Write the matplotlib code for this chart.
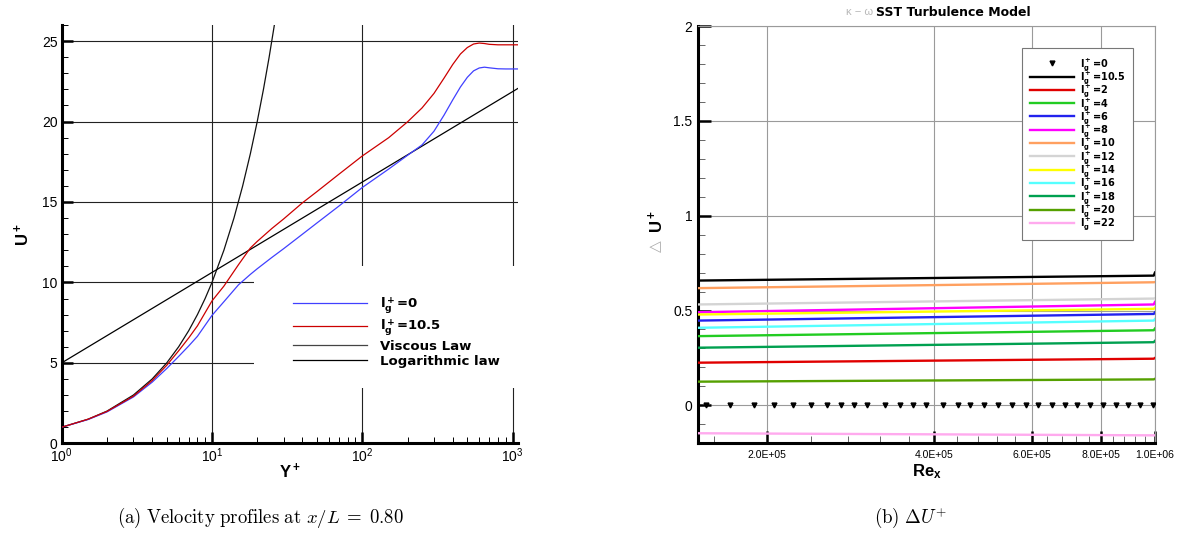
import matplotlib
matplotlib.use('Agg')
import matplotlib.pyplot as plt
from matplotlib.ticker import FixedLocator, FixedFormatter, LogFormatterMathtext, MultipleLocator
from matplotlib.patches import Rectangle

plt.rcParams['font.family'] = ['Liberation Sans', 'DejaVu Sans']
plt.rcParams['mathtext.fontset'] = 'custom'
plt.rcParams['mathtext.rm'] = 'Liberation Sans'
plt.rcParams['mathtext.default'] = 'regular'

# ---- (a) velocity profiles ----
yplus = [1, 1.5, 2, 3, 4, 5, 6, 7, 8, 10, 12, 15, 18, 20, 25, 30, 40, 50, 70, 100,
         150, 200, 250, 300, 350, 400, 450, 500, 550, 600, 650, 700, 800, 900, 1086]
u_lg0 = [1.0, 1.48, 1.95, 2.88, 3.8, 4.65, 5.4, 6.05, 6.65, 7.95, 8.8, 9.85, 10.5, 10.85, 11.55,
         12.1, 13.0, 13.7, 14.75, 15.9, 17.05, 17.9, 18.55, 19.4, 20.4, 21.35, 22.15, 22.75,
         23.15, 23.33, 23.38, 23.34, 23.28, 23.27, 23.27]
u_lg105 = [1.0, 1.5, 1.98, 2.93, 3.9, 4.85, 5.75, 6.55, 7.3, 8.85, 9.77, 11.1, 12.14, 12.55, 13.35,
           13.95, 14.95, 15.65, 16.73, 17.86, 19.0, 19.98, 20.85, 21.75, 22.7, 23.55, 24.2, 24.6,
           24.82, 24.88, 24.85, 24.8, 24.77, 24.77, 24.77]
visc_y = [1, 1.5, 2, 3, 4, 5, 6, 7, 8, 9, 10, 12, 14, 16, 18, 20, 22, 24, 26, 28]
visc_u = [1, 1.5, 2, 3, 4, 5, 6, 7, 8, 9, 10, 12, 14, 16, 18, 20, 22, 24, 26, 28]
log_y = [1, 1086]
log_u = [5.0, 22.06]

# ---- (b) delta U+ vs Re_x ----
re_line = [1.5e5, 9.95e5, 1.0e6]
du_105 = [0.658, 0.684, 0.700]
du_2 = [0.225, 0.246, 0.250]
du_4 = [0.365, 0.396, 0.405]
du_6 = [0.447, 0.482, 0.490]
du_8 = [0.491, 0.532, 0.545]
du_10 = [0.618, 0.649, 0.650]
du_12 = [0.532, 0.563, 0.565]
du_14 = [0.479, 0.509, 0.515]
du_16 = [0.409, 0.447, 0.455]
du_18 = [0.304, 0.333, 0.340]
du_20 = [0.125, 0.137, 0.140]
du_22 = [-0.147, -0.158, -0.158]
re_pts = [1.55e5, 1.71e5, 1.89e5, 2.06e5, 2.23e5, 2.40e5, 2.56e5, 2.72e5, 2.87e5, 3.03e5,
          3.26e5, 3.47e5, 3.67e5, 3.86e5, 4.15e5, 4.41e5, 4.65e5, 4.92e5, 5.21e5, 5.52e5,
          5.86e5, 6.16e5, 6.52e5, 6.87e5, 7.24e5, 7.63e5, 8.05e5, 8.49e5, 8.94e5, 9.39e5, 9.9e5]
du_0 = [0.0] * len(re_pts)
re_ticks = [2e5, 4e5, 6e5, 8e5, 1e6]
re_labels = ['2.0E+05', '4.0E+05', '6.0E+05', '8.0E+05', '1.0E+06']
du_ticks = [0, 0.5, 1, 1.5, 2]
du_labels = ['0', '0.5', '1', '1.5', '2']

series_b = [
    ('10.5', du_105, 'black'),
    ('2', du_2, '#e00000'),
    ('4', du_4, '#22cc22'),
    ('6', du_6, '#2222ee'),
    ('8', du_8, '#ff00ff'),
    ('10', du_10, '#ffa060'),
    ('12', du_12, '#d4d4d4'),
    ('14', du_14, '#ffff00'),
    ('16', du_16, '#55ffff'),
    ('18', du_18, '#00a050'),
    ('20', du_20, '#55a000'),
    ('22', du_22, '#ffaaee'),
]

fig = plt.figure(figsize=(11.82, 5.44), dpi=100)

# ---------- left panel ----------
ax1 = fig.add_axes([0.0522, 0.1851, 0.3860, 0.7689])
ax1.set_xscale('log')
ax1.set_xlim(1, 1086)
ax1.set_ylim(0, 26)
ax1.set_axisbelow(True)
ax1.grid(True, which='major', color='#222222', linewidth=0.8)
# blank area behind the legend (grid is cut there in the source)
ax1.add_patch(Rectangle((0.421, 0.132), 0.579, 0.292, transform=ax1.transAxes,
                        facecolor='white', edgecolor='none', zorder=1))

ax1.plot(yplus, u_lg0, color='#4040ff', lw=0.9, label='l$_g^+$=0', zorder=3)
ax1.plot(yplus, u_lg105, color='#cc0000', lw=0.9, label='l$_g^+$=10.5', zorder=3)
ax1.plot(visc_y, visc_u, color='#111111', lw=0.9, label='Viscous Law', zorder=2)
ax1.plot(log_y, log_u, color='black', lw=0.9, label='Logarithmic law', zorder=2)

ax1.yaxis.set_major_locator(MultipleLocator(5))
ax1.yaxis.set_minor_locator(MultipleLocator(1))
ax1.xaxis.set_major_formatter(LogFormatterMathtext())
ax1.tick_params(which='major', direction='in', length=8, width=1.8, labelsize=10, pad=3)
ax1.tick_params(which='minor', direction='in', length=4.3, width=0.7)
ax1.tick_params(axis='x', which='major', pad=2)
for s in ['top', 'right']:
    ax1.spines[s].set_visible(False)
for s in ['left', 'bottom']:
    ax1.spines[s].set_linewidth(2.2)

ax1.set_xlabel('Y$^+$', fontsize=12, fontweight='bold')
ax1.set_ylabel('U$^+$', fontsize=12, fontweight='bold')
ax1.xaxis.set_label_coords(0.5, -0.045)
ax1.yaxis.set_label_coords(-0.065, 0.5)

leg1 = ax1.legend(loc='upper left', bbox_to_anchor=(0.492, 0.37), frameon=False,
                  prop={'family': 'DejaVu Sans', 'weight': 'bold', 'size': 9.5},
                  handlelength=5.6, handletextpad=1.0, labelspacing=0.13, borderpad=0)
for h, c in zip(leg1.get_lines(), ['#4040ff', '#cc0000', '#444444', 'black']):
    h.set_color(c)

# ---------- right panel ----------
ax2 = fig.add_axes([0.5905, 0.1851, 0.3866, 0.7671])
ax2.set_xscale('log')
ax2.set_xlim(1.5e5, 1e6)
ax2.set_ylim(-0.2, 2)
ax2.set_axisbelow(True)
ax2.grid(True, which='major', color='#9a9a9a', linewidth=0.8)

ax2.plot(re_pts, du_0, linestyle='none', marker='v', markersize=3.5, color='black',
         label='l$_g^+$=0', zorder=4)
for name, vals, col in series_b:
    ax2.plot(re_line, vals, color=col, lw=1.7, label='l$_g^+$=' + name, zorder=3)

ax2.xaxis.set_major_locator(FixedLocator(re_ticks))
ax2.xaxis.set_major_formatter(FixedFormatter(re_labels))
ax2.xaxis.set_minor_locator(FixedLocator([1.6e5 + 4e4 * i for i in range(22)]))
ax2.xaxis.set_minor_formatter(FixedFormatter([]))
ax2.yaxis.set_major_locator(FixedLocator(du_ticks))
ax2.yaxis.set_major_formatter(FixedFormatter(du_labels))
ax2.yaxis.set_minor_locator(MultipleLocator(0.1))
ax2.tick_params(which='major', direction='in', length=9, width=1.8, pad=4)
ax2.tick_params(which='minor', direction='in', length=4.8, width=0.7, color='#666666')
ax2.tick_params(axis='x', which='major', labelsize=7.5, pad=5)
ax2.tick_params(axis='y', which='major', labelsize=10)
for s in ['top', 'right']:
    ax2.spines[s].set_linewidth(0.8)
    ax2.spines[s].set_color('#9a9a9a')
for s in ['left', 'bottom']:
    ax2.spines[s].set_linewidth(2.2)

ax2.set_xlabel('Re$_x$', fontsize=12, fontweight='bold')
ax2.xaxis.set_label_coords(0.5, -0.045)

leg2 = ax2.legend(loc='upper left', bbox_to_anchor=(0.698, 0.9585), frameon=True,
                  fancybox=False, edgecolor='#777777', framealpha=1,
                  prop={'family': 'DejaVu Sans', 'weight': 'bold', 'size': 7},
                  handlelength=4.6, handletextpad=0.6, labelspacing=-0.35,
                  borderpad=0.8, numpoints=1)
leg2.get_frame().set_linewidth(0.8)

# title and y-label of the right panel (greek parts faint, as in the source)
fig.text(873 / 1182, 1 - 12 / 544, 'κ − ω', color='#b8b8b8', fontsize=8, ha='right', va='center')
fig.text(876 / 1182, 1 - 12 / 544, 'SST Turbulence Model', fontsize=9, fontweight='bold',
         family='DejaVu Sans', ha='left', va='center')
fig.text(656 / 1182, 1 - 222 / 544, 'U$^+$', fontsize=12, fontweight='bold', rotation=90,
         ha='center', va='center')
fig.text(656 / 1182, 1 - 246 / 544, '△', color='#aaaaaa', fontsize=11, rotation=90,
         ha='center', va='center', family='DejaVu Sans')

# sub-captions
fig.text(260 / 1182, 1 - 518 / 544,
         r'$\mathrm{(a)\ Velocity\ profiles\ at\ }\mathit{x}\mathrm{/}\mathit{L}\;\mathrm{=}\;\mathrm{0.80}$',
         fontsize=13.5, ha='center', va='center', math_fontfamily='cm')
fig.text(910 / 1182, 1 - 518 / 544, r'$\mathrm{(b)\ \Delta}\mathit{U}^{\mathrm{+}}$',
         fontsize=13.7, ha='center', va='center', math_fontfamily='cm')

fig.savefig('out.png', dpi=100)
